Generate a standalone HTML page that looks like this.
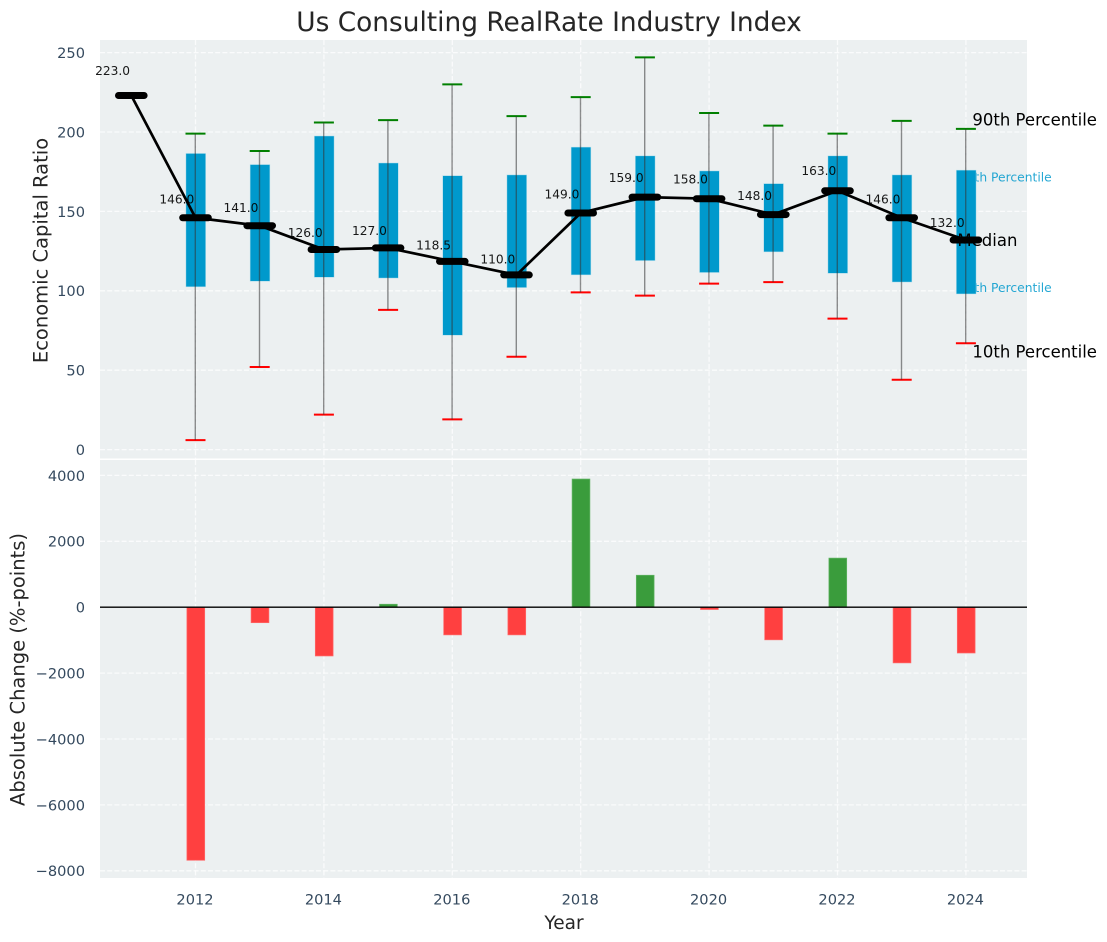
<!DOCTYPE html>
<html lang="en">
<head>
<meta charset="utf-8">
<title>Us Consulting RealRate Industry Index</title>
<style>
html,body{margin:0;padding:0;background:#fff;width:1107px;height:942px;overflow:hidden}
svg{display:block}
text{font-family:"DejaVu Sans","Liberation Sans",sans-serif}
</style>
</head>
<body>
<svg id="chart" xmlns="http://www.w3.org/2000/svg" width="1107" height="942" viewBox="0 0 1107 942">
<text x="549" y="31" font-size="26.4" fill="#262626" text-anchor="middle">Us Consulting RealRate Industry Index</text>
<rect x="100" y="40" width="927" height="418.5" fill="#ecf0f1"/>
<rect x="100" y="460" width="927" height="418" fill="#ecf0f1"/>
<g id="grid"></g>
<g id="labelsBack"></g>
<g id="whiskers"></g>
<g id="boxes"></g>
<g id="stems"></g>
<g id="annotations"></g>
<g id="labelsFront"></g>
<g id="medianGroup"></g>
<g id="bars"></g>
<g id="ticks"></g>
<text x="41" y="250.5" font-size="19.5" fill="#262626" text-anchor="middle" transform="rotate(-90 41 250.5)" dominant-baseline="central">Economic Capital Ratio</text>
<text x="18" y="669.5" font-size="19.5" fill="#262626" text-anchor="middle" transform="rotate(-90 18 669.5)" dominant-baseline="central">Absolute Change (%-points)</text>
<text x="564" y="929" font-size="18.5" fill="#262626" text-anchor="middle">Year</text>
</svg>
<script>
const years = [2011, 2012, 2013, 2014, 2015, 2016, 2017, 2018, 2019, 2020, 2021, 2022, 2023, 2024];
const medians = [223, 146, 141, 126, 127, 118.5, 110, 149, 159, 158, 148, 163, 146, 132];
const medianLabels = ['223.0', '146.0', '141.0', '126.0', '127.0', '118.5', '110.0', '149.0', '159.0', '158.0', '148.0', '163.0', '146.0', '132.0'];
const boxYears = [2012, 2013, 2014, 2015, 2016, 2017, 2018, 2019, 2020, 2021, 2022, 2023, 2024];
const p90 = [199, 188, 206, 207.5, 230, 210, 222, 247, 212, 204, 199, 207, 202];
const p75 = [186.5, 179.5, 197.5, 180.5, 172.5, 173, 190.5, 185, 175.5, 167.5, 185, 173, 176];
const p25 = [102.5, 106, 108.5, 108, 72, 102, 110, 119, 111.5, 124.5, 111, 105.5, 98];
const p10 = [6, 52, 22, 88, 19, 58.5, 99, 97, 104.5, 105.5, 82.5, 44, 67];
const changes = [-7680, -470, -1480, 90, -840, -840, 3890, 970, -70, -990, 1490, -1690, -1390];
const topTicks = [0, 50, 100, 150, 200, 250];
const bottomTicks = [-8000, -6000, -4000, -2000, 0, 2000, 4000];
const xTicks = [2012, 2014, 2016, 2018, 2020, 2022, 2024];

const NS = 'http://www.w3.org/2000/svg';
const xS = v => 195.5 + (v - 2012) * 64.2;
const yT = v => 449.6 - v * 1.588;
const yB = v => 607.2 - v * 0.03295;
const add = (parent, tag, attrs) => {
  const el = document.createElementNS(NS, tag);
  for (const k in attrs) el.setAttribute(k, attrs[k]);
  document.getElementById(parent).appendChild(el);
  return el;
};
const fmt = v => (v < 0 ? '\u2212' + (-v) : String(v));
const gridStyle = {stroke: '#fff', 'stroke-width': 1.3, 'stroke-opacity': 0.75, 'stroke-dasharray': '5 2.2'};

topTicks.forEach(t => {
  const g = add('grid', 'line', {x1: 100, x2: 1027, y1: yT(t), y2: yT(t), ...gridStyle});
  
  
  const l = add('ticks', 'text', {x: 85, y: yT(t) + 5.4, 'font-size': 14.6, fill: '#34495e', 'text-anchor': 'end'});
  l.textContent = fmt(t);
  
  
});
bottomTicks.forEach(t => {
  const g = add('grid', 'line', {x1: 100, x2: 1027, y1: yB(t), y2: yB(t), ...gridStyle});
  
  
  const l = add('ticks', 'text', {x: 85, y: yB(t) + 5.4, 'font-size': 14.6, fill: '#34495e', 'text-anchor': 'end'});
  l.textContent = fmt(t);
  
  
});
xTicks.forEach(t => {
  const g1 = add('grid', 'line', {x1: xS(t), x2: xS(t), y1: 40, y2: 458.5, ...gridStyle});
  
  
  const g2 = add('grid', 'line', {x1: xS(t), x2: xS(t), y1: 460, y2: 878, ...gridStyle});
  
  
  const l = add('ticks', 'text', {x: xS(t) - 0.5, y: 904.5, 'font-size': 14.6, fill: '#34495e', 'text-anchor': 'middle'});
  l.textContent = String(t);
  
  
});

boxYears.forEach((yr, i) => {
  const x = xS(yr);
  const hi = add('whiskers', 'line', {x1: x - 10, x2: x + 10, y1: yT(p90[i]), y2: yT(p90[i]), stroke: '#008000', 'stroke-width': 2});
  
  
  const lo = add('whiskers', 'line', {x1: x - 10, x2: x + 10, y1: yT(p10[i]), y2: yT(p10[i]), stroke: '#ff0000', 'stroke-width': 2});
  
  
  const box = add('boxes', 'rect', {x: x - 9.6, width: 19.8, y: yT(p75[i]), height: yT(p25[i]) - yT(p75[i]), fill: '#0099cc', stroke: '#bfe3ef', 'stroke-width': 0.6, 'stroke-opacity': 0.8});
  
  
  const stem = add('stems', 'line', {x1: x - 0.2, x2: x - 0.2, y1: yT(p90[i]), y2: yT(p10[i]), stroke: '#333', 'stroke-width': 1.4, 'stroke-opacity': 0.55});
  
  
});

years.forEach((yr, i) => {
  const t = add('annotations', 'text', {x: xS(yr) - 18.7, y: yT(medians[i] * 1.05) - 7 + 4.4, 'font-size': 12.2, fill: '#000', 'fill-opacity': 0.9, 'text-anchor': 'middle'});
  t.textContent = medianLabels[i];
  
  
});

const lastX = xS(2024);
const lastBox = boxYears.length - 1;
const backNames = [['75th Percentile', p75, 11.5], ['25th Percentile', p25, -2]];
backNames.forEach(([txt, arr, dy]) => {
  const t = add('labelsBack', 'text', {x: lastX - 7, y: yT(arr[lastBox]) + dy, 'font-size': 12.3, fill: '#0099cc', 'fill-opacity': 0.85});
  t.textContent = txt;
  
  
});
const frontNames = [['90th Percentile', 6.5, yT(p90[lastBox]) - 3.5], ['Median', -8.5, yT(medians[13]) + 5.8], ['10th Percentile', 6.5, yT(p10[lastBox]) + 14.5]];
frontNames.forEach(([txt, dx, y]) => {
  const t = add('labelsFront', 'text', {x: lastX + dx, y: y, 'font-size': 16.5, fill: '#000'});
  t.textContent = txt;
  
  
});

const linePts = years.map((yr, i) => xS(yr) + ',' + yT(medians[i])).join(' ');
const poly = add('medianGroup', 'polyline', {points: linePts, fill: 'none', stroke: '#000', 'stroke-width': 2.7, 'stroke-linejoin': 'round'});


years.forEach((yr, i) => {
  const m = add('medianGroup', 'line', {x1: xS(yr) - 12.8, x2: xS(yr) + 12.8, y1: yT(medians[i]), y2: yT(medians[i]), stroke: '#000', 'stroke-width': 7, 'stroke-linecap': 'round'});
  
  
});

boxYears.forEach((yr, i) => {
  const v = changes[i];
  const up = v >= 0;
  const b = add('bars', 'rect', {x: xS(yr) - 8.6, width: 17.8, y: Math.min(yB(v), yB(0)), height: Math.abs(yB(v) - yB(0)), fill: up ? '#3a9c3c' : '#ff4040', stroke: up ? '#62b565' : '#ff6a6a', 'stroke-width': 0.7});
  
  
});
const zero = add('bars', 'line', {x1: 100, x2: 1027, y1: yB(0), y2: yB(0), stroke: '#000', 'stroke-width': 1.4});


</script>
</body>
</html>
